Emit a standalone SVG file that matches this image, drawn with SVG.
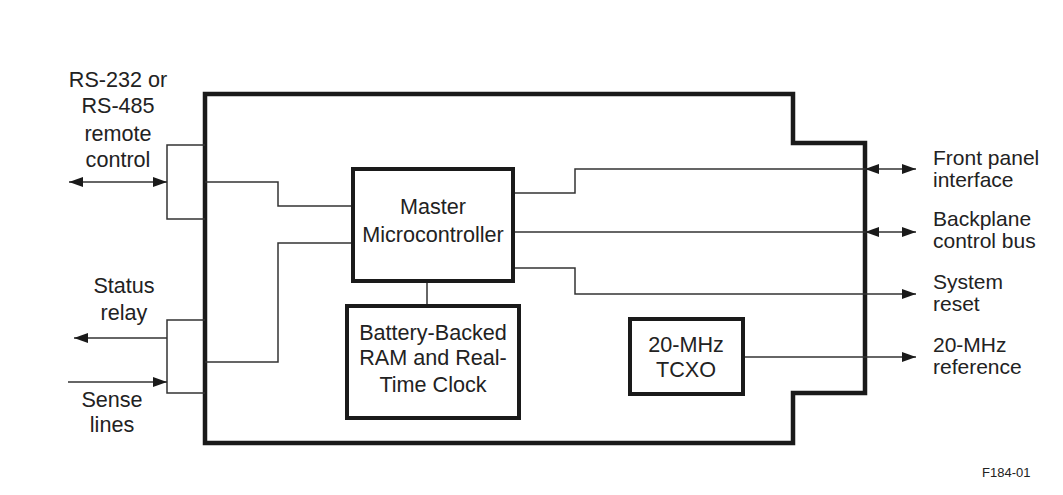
<svg xmlns="http://www.w3.org/2000/svg" width="1063" height="495" viewBox="0 0 1063 495">
<style>
text{font-family:"Liberation Sans",Arial,sans-serif;font-size:21.6px;fill:#222}
.c{text-anchor:middle}
.r{font-size:21px}
.box{fill:#fff;stroke:#1a1a1a;stroke-width:4}
.ln{fill:none;stroke:#333;stroke-width:1.5}
.small{font-size:13px}
</style>
<defs>
<marker id="ah" viewBox="0 0 14 10" refX="14" refY="5" markerWidth="14" markerHeight="10" markerUnits="userSpaceOnUse" orient="auto-start-reverse">
<path d="M0,0 L14,5 L0,10 Z" fill="#1a1a1a"/>
</marker>
</defs>
<rect width="1063" height="495" fill="#fff"/>
<g id="enclosure">
<path d="M205,94 H793 V143 H865 V393 H793 V443 H205 Z" fill="none" stroke="#1a1a1a" stroke-width="4.5"/>
</g>
<g id="connectors">
<path class="ln" d="M205,145 H167 V219 H205"/>
<path class="ln" d="M69,182 H167" marker-start="url(#ah)" marker-end="url(#ah)"/>
<path class="ln" d="M205,320 H167 V393 H205"/>
<path class="ln" d="M167,338 H74" marker-end="url(#ah)"/>
<path class="ln" d="M68,382 H167" marker-end="url(#ah)"/>
<path class="ln" d="M205,182 H278 V206 H353"/>
<path class="ln" d="M353,243 H278 V362 H205"/>
<path class="ln" d="M427,281 V306"/>
<path class="ln" d="M513,193 H575 V169 H865"/>
<path class="ln" d="M865,169 H916" marker-start="url(#ah)" marker-end="url(#ah)"/>
<path class="ln" d="M513,232 H865"/>
<path class="ln" d="M865,232 H916" marker-start="url(#ah)" marker-end="url(#ah)"/>
<path class="ln" d="M513,268 H575 V294 H916" marker-end="url(#ah)"/>
<path class="ln" d="M743,357 H916" marker-end="url(#ah)"/>
</g>
<g id="master">
<rect class="box" x="353" y="169" width="160" height="112"/>
<text class="c" x="433" y="214">Master</text>
<text class="c" x="433" y="242">Microcontroller</text>
</g>
<g id="battery">
<rect class="box" x="347" y="306" width="172" height="112"/>
<text class="c" x="433" y="340">Battery-Backed</text>
<text class="c" x="433" y="365">RAM and Real-</text>
<text class="c" x="433" y="392">Time Clock</text>
</g>
<g id="tcxo">
<rect class="box" x="630" y="319" width="113" height="75"/>
<text class="c" x="686" y="352">20-MHz</text>
<text class="c" x="686" y="377">TCXO</text>
</g>
<g id="label-remote">
<text class="c" x="118" y="87">RS-232 or</text>
<text class="c" x="118" y="113">RS-485</text>
<text class="c" x="118" y="141">remote</text>
<text class="c" x="118" y="167">control</text>
</g>
<g id="label-status">
<text class="c" x="124" y="293">Status</text>
<text class="c" x="124" y="320">relay</text>
</g>
<g id="label-sense">
<text class="c" x="112" y="407">Sense</text>
<text class="c" x="112" y="432">lines</text>
</g>
<g id="label-front">
<text class="r" x="933" y="165">Front panel</text>
<text class="r" x="933" y="187">interface</text>
</g>
<g id="label-backplane">
<text class="r" x="933" y="226">Backplane</text>
<text class="r" x="933" y="248">control bus</text>
</g>
<g id="label-reset">
<text class="r" x="933" y="289">System</text>
<text class="r" x="933" y="311">reset</text>
</g>
<g id="label-ref">
<text class="r" x="933" y="352">20-MHz</text>
<text class="r" x="933" y="374">reference</text>
</g>
<text class="small" x="982" y="477">F184-01</text>
</svg>
